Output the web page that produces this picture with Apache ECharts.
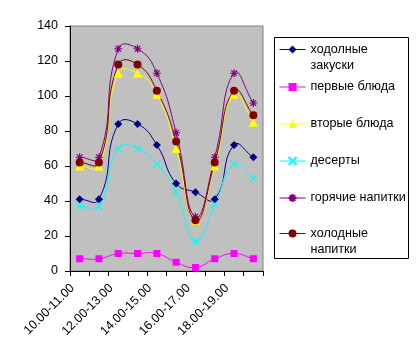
<!DOCTYPE html>
<html><head><meta charset="utf-8">
<script src="https://cdn.jsdelivr.net/npm/echarts@6/dist/echarts.min.js"></script>
<style>html,body{margin:0;padding:0;background:#fff}#c{width:420px;height:361px}</style>
</head><body><div id="c"></div>
<script>
const categories = ['10.00-11.00','11.00-12.00','12.00-13.00','13.00-14.00','14.00-15.00','15.00-16.00','16.00-17.00','17.00-18.00','18.00-19.00','19.00-20.00'];
const seriesNames = ['ходолные закуски','первые блюда','вторые блюда','десерты','горячие напитки','холодные напитки'];
const zakuski = [41, 41, 84, 84, 72, 50, 45, 41, 72, 65];
const pervye = [7, 7, 10, 10, 10, 5, 2, 7, 10, 7];
const vtorye = [60, 60, 113, 113, 101, 70, 29, 60, 101, 85];
const deserty = [37, 37, 70, 70, 61, 45, 17, 38, 61, 53];
const goryachie = [65, 65, 127, 127, 113, 79, 31, 65, 113, 96];
const holodnye = [62, 62, 118, 118, 103, 74, 29, 62, 103, 89];
const yTicks = [0, 20, 40, 60, 80, 100, 120, 140];

const FONT = 'Arial, "Liberation Sans", sans-serif';
const colors = ['#000080','#FF00FF','#FFFF00','#00FFFF','#800080','#800000'];
const symbols = [
  'diamond', 'rect', 'triangle',
  'path://M0,0L10,10M10,0L0,10',
  'path://M0,5L10,5M5,0L5,10M1.5,1.5L8.5,8.5M8.5,1.5L1.5,8.5',
  'circle'
];
const sizes = [8, 7, 9, 7, 8, 8];
const dataArr = [zakuski, pervye, vtorye, deserty, goryachie, holodnye];
const twoLine = [true, false, false, false, false, true];
const legendTops = [27, 79, 116, 153, 190, 211];

function smoothPath(pts, s) {
  let d = 'M' + pts[0][0] + ',' + pts[0][1];
  const n = pts.length;
  const dist = (a, b) => Math.hypot(a[0] - b[0], a[1] - b[1]);
  for (let i = 0; i < n - 1; i++) {
    const p0 = pts[i - 1] || pts[i], p1 = pts[i], p2 = pts[i + 1], p3 = pts[i + 2] || pts[i + 1];
    let lp = dist(p0, p1), ln = dist(p1, p2);
    let r1 = (lp + ln) ? ln / (lp + ln) : 0;
    const c1x = p1[0] + (p2[0] - p0[0]) * s * r1;
    const c1y = p1[1] + (p2[1] - p0[1]) * s * r1;
    lp = dist(p1, p2); ln = dist(p2, p3);
    let r2 = (lp + ln) ? lp / (lp + ln) : 0;
    const c2x = p2[0] - (p3[0] - p1[0]) * s * r2;
    const c2y = p2[1] - (p3[1] - p1[1]) * s * r2;
    d += 'C' + c1x + ',' + c1y + ',' + c2x + ',' + c2y + ',' + p2[0] + ',' + p2[1];
  }
  return d;
}

const chart = echarts.init(document.getElementById('c'), null, {renderer: 'canvas'});
const curves = seriesNames.map((n, i) => ({
  name: n + '_curve',
  type: 'custom',
  silent: true,
  z: 2,
  data: dataArr[i].map((v, k) => [k, v]),
  encode: {x: 0, y: 1},
  renderItem: (params, api) => {
    if (params.dataIndex !== 0) return null;
    const pts = dataArr[i].map((v, k) => api.coord([k, v]));
    return {type: 'path', shape: {pathData: smoothPath(pts, 0.5)}, style: {stroke: colors[i], fill: null, lineWidth: 1}};
  }
}));
const markers = seriesNames.map((n, i) => ({
  name: n,
  type: 'line',
  z: 3,
  data: dataArr[i],
  symbol: symbols[i],
  symbolSize: sizes[i],
  showAllSymbol: true,
  lineStyle: {color: colors[i], width: 1, opacity: 0},
  itemStyle: {color: colors[i], borderColor: colors[i], borderWidth: (i === 3 || i === 4) ? 1.2 : 0},
  emphasis: {disabled: true}
}));
const legends = seriesNames.map((n, i) => ({
  data: [n],
  left: 279,
  top: legendTops[i],
  orient: 'vertical',
  itemWidth: 26,
  itemHeight: 10,
  padding: 0,
  lineStyle: {color: colors[i], width: 1, opacity: 1},
  formatter: twoLine[i] ? (name => { const p = name.split(' '); return '{a|' + p[0] + '}\n{b|' + p[1] + '}'; }) : '{name}',
  textStyle: {
    fontFamily: FONT, fontSize: 12.6, color: '#000', lineHeight: 16,
    rich: {
      a: {fontFamily: FONT, fontSize: 12.6, color: '#000', lineHeight: 16, padding: [16, 0, 0, 0]},
      b: {fontFamily: FONT, fontSize: 12.6, color: '#000', lineHeight: 16, padding: [16, 0, 0, 0]}
    }
  }
}));
chart.setOption({
  animation: false,
  grid: {left: 70, right: 157, top: 26, bottom: 90, show: true, backgroundColor: '#C0C0C0', borderColor: '#808080', borderWidth: 1},
  xAxis: {
    type: 'category', data: categories, boundaryGap: true,
    axisLine: {lineStyle: {color: '#000', width: 1}},
    axisTick: {show: true, interval: 0, length: 5, lineStyle: {color: '#000'}},
    axisLabel: {interval: 1, rotate: 45, margin: 8, padding: [0, 10, 0, 0], fontFamily: FONT, fontSize: 12.5, color: '#000'}
  },
  yAxis: {
    type: 'value', min: yTicks[0], max: yTicks[yTicks.length - 1], interval: yTicks[1] - yTicks[0],
    axisLine: {show: true, lineStyle: {color: '#000', width: 1}},
    axisTick: {show: true, length: 5, lineStyle: {color: '#000'}},
    splitLine: {show: false},
    axisLabel: {margin: 12, fontFamily: FONT, fontSize: 12.5, color: '#000'}
  },
  legend: legends,
  graphic: [{type: 'rect', shape: {x: 274.5, y: 37.5, width: 134, height: 221}, style: {fill: 'none', stroke: '#000', lineWidth: 1}, z: 0}],
  series: curves.concat(markers)
});
</script></body></html>
